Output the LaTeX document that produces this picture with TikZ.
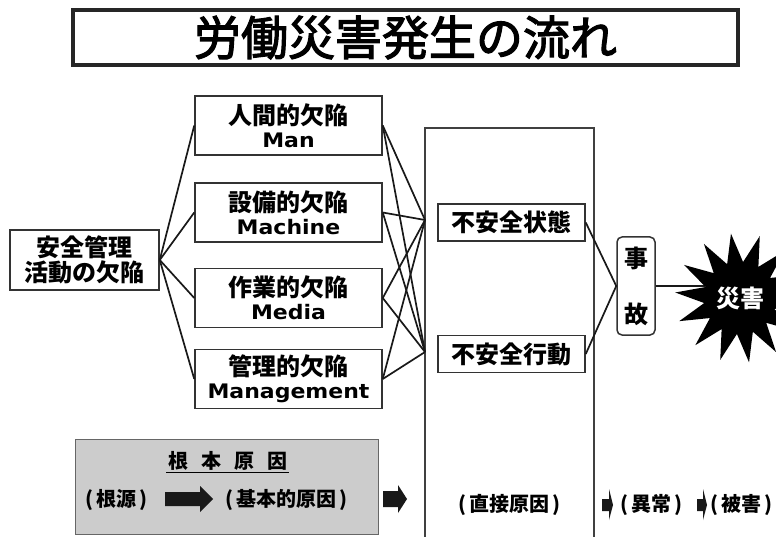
\documentclass[tikz,border=0pt]{standalone}
\usepackage{fontspec}
\newfontfamily\jp{Noto Sans CJK JP}
\newfontfamily\jptitle[FakeBold=2.5]{Noto Sans CJK JP}
\newfontfamily\lat[FakeStretch=1.1]{DejaVu Sans}
\usetikzlibrary{shapes.geometric}
\tikzset{
  titlebox/.style={draw=black!85, line width=4pt, minimum width=665pt, minimum height=55pt, inner sep=0pt,
    font=\jptitle\fontsize{47}{50}\selectfont},
  box/.style={draw=black!80, line width=1.5pt, fill=white, minimum width=187pt, minimum height=59pt,
    align=center, inner sep=0pt, font=\jp\bfseries\fontsize{24}{23}\selectfont},
  ubox/.style={draw=black!80, line width=1.5pt, fill=white, minimum width=147pt, minimum height=37pt,
    inner sep=0pt, font=\jp\bfseries\fontsize{24}{26}\selectfont},
  conn/.style={draw=black!90, line width=1.7pt},
  small/.style={inner sep=0pt, font=\jp\bfseries\fontsize{20}{22}\selectfont},
  blk/.style={fill=black!90}
}
\newcommand{\latt}[1]{{\lat\bfseries\fontsize{20}{23}\selectfont #1}}
\newcommand{\paren}[1]{(\kern3pt#1\kern3pt)}
\begin{document}
\begin{tikzpicture}[x=1pt,y=-1pt]
\useasboundingbox (0,0) rectangle (776,537);
\clip (0,0) rectangle (776,537);
\fill[white] (0,0) rectangle (776,537);

% title
\node[titlebox] (title) at (405.5,37.5) {労働災害発生の流れ};

% column of direct causes
\node[draw=black!75, line width=1.3pt, minimum width=169pt, minimum height=440pt, inner sep=0pt] (col) at (509.5,348) {};
\coordinate (cA) at (425,220);
\coordinate (cB) at (425,352);

% left boxes
\node[box, minimum width=149pt, minimum height=60pt, font=\jp\bfseries\fontsize{24}{25}\selectfont] (root) at (84.5,260) {安全管理\\活動の欠陥};
\node[box] (man) at (288.5,125.5) {人間的欠陥\\\latt{Man}};
\node[box] (mac) at (288.5,212.5) {設備的欠陥\\\latt{Machine}};
\node[box] (med) at (288.5,298) {作業的欠陥\\\latt{Media}};
\node[box] (mng) at (288.5,379) {管理的欠陥\\\latt{Management}};

\foreach \b in {man,mac,med,mng} {
  \draw[conn] (root.east) -- (\b.west);
  \draw[conn] (\b.east) -- (cA);
  \draw[conn] (\b.east) -- (cB);
}

% unsafe state / act
\node[ubox] (us) at (511.5,222.5) {不安全状態};
\node[ubox] (ua) at (511.5,354) {不安全行動};

% accident
\node[draw=black!80, line width=1.5pt, rounded corners=5pt, minimum width=38pt, minimum height=98pt,
  inner sep=0pt, align=center, font=\jp\bfseries\fontsize{24}{56}\selectfont] (acc) at (636,286) {事\\故};
\draw[conn] (us.east) -- (acc.west);
\draw[conn] (ua.east) -- (acc.west);

% disaster star
\coordinate (sj) at (705,286);
\draw[conn] (acc.east) -- (sj);
\node[star, star points=14, star point ratio=1.8, minimum size=130pt, fill=black, inner sep=0pt,
  text=white, font=\jp\bfseries\fontsize{24}{26}\selectfont, rotate=8] (star) at (740,298) {\rotatebox{-8}{災害}};

% root cause panel
\node[draw=black!60, line width=1pt, fill=black!20, minimum width=303pt, minimum height=95pt, inner sep=0pt] (rcbox) at (226.5,486.5) {};
\node[inner sep=1.5pt, font=\jp\bfseries\fontsize{20}{22}\selectfont] (rc) at (227.5,461) {根\hspace{13pt}本\hspace{13pt}原\hspace{13pt}因};
\draw[line width=1.2pt] (rc.south west) -- (rc.south east);
\node[small] (src) at (116,500) {\paren{根源}};
\node[small] (basic) at (286,500) {\paren{基本的原因}};
\fill[blk] (165,492) -- (200,492) -- (200,486) -- (213,499) -- (200,512) -- (200,506) -- (165,506) -- cycle;
\fill[blk] (383,491) -- (398,491) -- (398,485) -- (407,499) -- (398,513) -- (398,507) -- (383,507) -- cycle;

\node[small] (direct) at (509.5,505) {\paren{直接原因}};
\fill[blk] (602,499) -- (609,499) -- (609,489) -- (613,505) -- (609,520) -- (609,511) -- (602,511) -- cycle;
\node[small] (abn) at (651.5,505) {\paren{異常}};
\fill[blk] (697,499) -- (703,499) -- (703,489) -- (707,505) -- (703,520) -- (703,511) -- (697,511) -- cycle;
\node[small] (dmg) at (741,505) {\paren{被害}};
\end{tikzpicture}
\end{document}
